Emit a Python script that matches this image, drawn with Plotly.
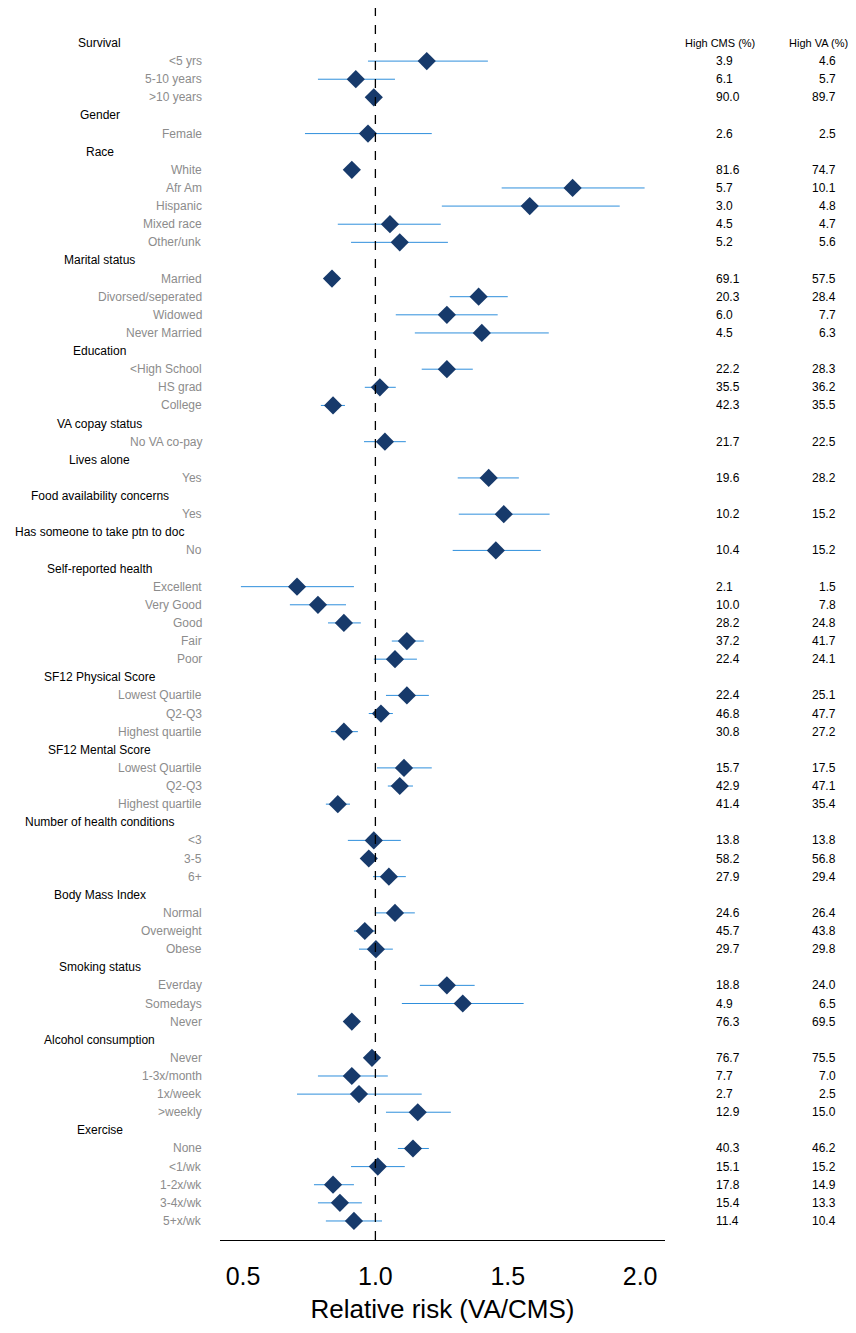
import plotly.graph_objects as go

labels = ["Survival","<5 yrs","5-10 years",">10 years","Gender","Female","Race","White","Afr Am","Hispanic","Mixed race","Other/unk",
"Marital status","Married","Divorsed/seperated","Widowed","Never Married","Education","<High School","HS grad","College",
"VA copay status","No VA co-pay","Lives alone","Yes","Food availability concerns","Yes","Has someone to take ptn to doc","No",
"Self-reported health","Excellent","Very Good","Good","Fair","Poor","SF12 Physical Score","Lowest Quartile","Q2-Q3","Highest quartile",
"SF12 Mental Score","Lowest Quartile","Q2-Q3","Highest quartile","Number of health conditions","<3","3-5","6+",
"Body Mass Index","Normal","Overweight","Obese","Smoking status","Everday","Somedays","Never",
"Alcohol consumption","Never","1-3x/month","1x/week",">weekly","Exercise","None","<1/wk","1-2x/wk","3-4x/wk","5+x/wk"]
is_header = [1,0,0,0,1,0,1,0,0,0,0,0,1,0,0,0,0,1,0,0,0,1,0,1,0,1,0,1,0,1,0,0,0,0,0,1,0,0,0,1,0,0,0,1,0,0,0,1,0,0,0,1,0,0,0,1,0,0,0,0,1,0,0,0,0,0]
rr = [None,1.194,0.926,0.994,None,0.972,None,0.911,1.745,1.583,1.055,1.092,None,0.836,1.39,1.27,1.402,None,1.27,1.017,0.84,
None,1.036,None,1.428,None,1.485,None,1.455,None,0.704,0.783,0.881,1.119,1.074,None,1.119,1.021,0.881,None,1.108,1.092,0.858,
None,0.994,0.975,1.051,None,1.074,0.96,1.002,None,1.27,1.33,0.911,None,0.987,0.911,0.938,1.16,None,1.142,1.009,0.84,0.866,0.919]
lo = [None,0.972,0.783,0.98,None,0.734,None,0.895,1.477,1.251,0.858,0.908,None,0.82,1.281,1.077,1.149,None,1.175,0.96,0.794,
None,0.957,None,1.311,None,1.315,None,1.292,None,0.492,0.677,0.821,1.062,0.994,None,1.04,0.975,0.832,None,1.006,1.047,0.813,
None,0.896,0.945,0.991,None,0.998,0.919,0.938,None,1.168,1.1,0.895,None,0.96,0.783,0.704,1.04,None,1.085,0.908,0.768,0.783,0.813]
hi = [None,1.425,1.074,1.008,None,1.213,None,0.93,2.017,1.923,1.247,1.274,None,0.852,1.5,1.462,1.655,None,1.368,1.077,0.885,
None,1.115,None,1.542,None,1.658,None,1.625,None,0.919,0.889,0.945,1.183,1.157,None,1.202,1.066,0.934,None,1.213,1.142,0.904,
None,1.096,1.006,1.115,None,1.149,1.002,1.066,None,1.375,1.56,0.927,None,1.014,1.047,1.175,1.285,None,1.202,1.111,0.919,0.949,1.025]
cms = ["","3.9","6.1","90.0","","2.6","","81.6","5.7","3.0","4.5","5.2","","69.1","20.3","6.0","4.5","","22.2","35.5","42.3",
"","21.7","","19.6","","10.2","","10.4","","2.1","10.0","28.2","37.2","22.4","","22.4","46.8","30.8","","15.7","42.9","41.4",
"","13.8","58.2","27.9","","24.6","45.7","29.7","","18.8","4.9","76.3","","76.7","7.7","2.7","12.9","","40.3","15.1","17.8","15.4","11.4"]
va = ["","4.6","5.7","89.7","","2.5","","74.7","10.1","4.8","4.7","5.6","","57.5","28.4","7.7","6.3","","28.3","36.2","35.5",
"","22.5","","28.2","","15.2","","15.2","","1.5","7.8","24.8","41.7","24.1","","25.1","47.7","27.2","","17.5","47.1","35.4",
"","13.8","56.8","29.4","","26.4","43.8","29.8","","24.0","6.5","69.5","","75.5","7.0","2.5","15.0","","46.2","15.2","14.9","13.3","10.4"]
xticks = [0.5, 1.0, 1.5, 2.0]

idx = [i for i in range(len(labels)) if rr[i] is not None]
fig = go.Figure()
fig.add_trace(go.Scatter(
    x=[rr[i] for i in idx], y=idx, mode="markers",
    marker=dict(symbol="diamond", size=14, color="#173a6b", line=dict(width=0)),
    error_x=dict(type="data", symmetric=False,
                 array=[hi[i]-rr[i] for i in idx], arrayminus=[rr[i]-lo[i] for i in idx],
                 color="#2f8fdc", thickness=1, width=0),
    showlegend=False))
fig.add_shape(type="line", xref="x", yref="paper", x0=1, x1=1, y0=0, y1=1,
              line=dict(color="black", width=1.3, dash="dash"))

ann = []
F = "Liberation Sans, Arial, sans-serif"
for i, lab in enumerate(labels):
    if is_header[i]:
        ann.append(dict(x=-0.270, y=i, xref="paper", yref="y", text=lab, showarrow=False,
                        xanchor="center", font=dict(size=12, color="black", family=F)))
    else:
        ann.append(dict(x=-0.036, y=i, xref="paper", yref="y", text=lab, showarrow=False,
                        xanchor="right", font=dict(size=12, color="#8c8c8c", family=F)))
    if cms[i]:
        ann.append(dict(x=1.110, y=i, xref="paper", yref="y", text=cms[i], showarrow=False,
                        xanchor="left", font=dict(size=12, color="black", family=F)))
    if va[i]:
        ann.append(dict(x=1.389, y=i, xref="paper", yref="y", text=va[i], showarrow=False,
                        xanchor="right", font=dict(size=12, color="black", family=F)))
ann.append(dict(x=1.124, y=0, xref="paper", yref="y", text="High CMS (%)", showarrow=False,
                xanchor="center", font=dict(size=11, color="black", family=F)))
ann.append(dict(x=1.346, y=0, xref="paper", yref="y", text="High VA (%)", showarrow=False,
                xanchor="center", font=dict(size=11, color="black", family=F)))

fig.update_layout(
    width=856, height=1333, margin=dict(l=212, r=199, t=0, b=101),
    plot_bgcolor="white", paper_bgcolor="white", annotations=ann,
    xaxis=dict(range=[0.413, 2.094], tickvals=xticks, ticktext=[f"{v:.1f}" for v in xticks],
               showgrid=False, zeroline=False, showline=True, linecolor="black", linewidth=1,
               ticks="", ticklabelstandoff=14, tickfont=dict(size=25, family=F, color="black"),
               title=dict(text="Relative risk (VA/CMS)", font=dict(size=26, family=F, color="black"), standoff=10)),
    yaxis=dict(range=[66.05, -1.93], showgrid=False, zeroline=False, showticklabels=False, showline=False),
)
fig.write_html("out.html")
